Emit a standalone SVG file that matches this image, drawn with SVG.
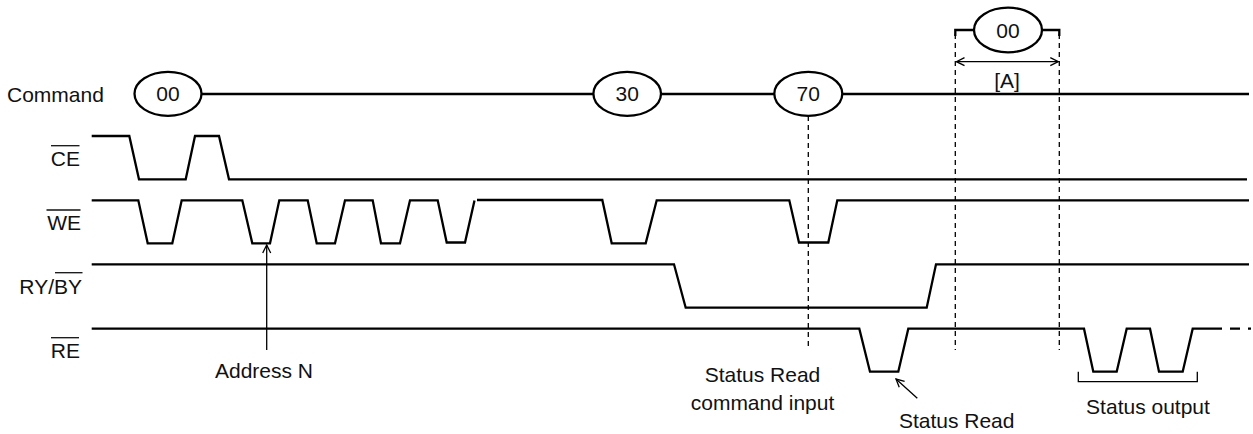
<svg xmlns="http://www.w3.org/2000/svg" width="1253" height="434" viewBox="0 0 1253 434">
<style>
.t{font-family:"Liberation Sans",Arial,sans-serif;font-size:21px;fill:#111}
.m{text-anchor:middle}
.e{text-anchor:end}
.w{fill:none;stroke:#000;stroke-width:2.3;stroke-linejoin:miter}
.d{fill:none;stroke:#000;stroke-width:1.3;stroke-dasharray:5,4}
.a{fill:none;stroke:#000;stroke-width:1.3}
.ol{stroke:#111;stroke-width:1.3}
.el{fill:#fff;stroke:#000;stroke-width:2.3}
</style>
<defs>
<marker id="oa" viewBox="0 0 10 10" refX="9" refY="5" markerWidth="10" markerHeight="10" markerUnits="userSpaceOnUse" orient="auto-start-reverse">
<path d="M1,1 L9,5 L1,9" fill="none" stroke="#000" stroke-width="1.3"/>
</marker>
</defs>
<rect width="1253" height="434" fill="#fff"/>

<g id="labels">
<text class="t" x="7" y="101.5">Command</text>
<text class="t e" x="80" y="166">CE</text>
<line class="ol" x1="51" y1="145.7" x2="79.5" y2="145.7"/>
<text class="t e" x="81" y="230">WE</text>
<line class="ol" x1="46.5" y1="210" x2="80.5" y2="210"/>
<text class="t e" x="82" y="294">RY/BY</text>
<line class="ol" x1="55" y1="272.7" x2="82.5" y2="272.7"/>
<text class="t e" x="80" y="358">RE</text>
<line class="ol" x1="51" y1="337.7" x2="79" y2="337.7"/>
</g>

<g id="connectors">
<!-- Command bus -->
<line class="w" x1="201" y1="94" x2="594" y2="94"/>
<line class="w" x1="661" y1="94" x2="775" y2="94"/>
<line class="w" x1="842" y1="94" x2="1249" y2="94"/>
<!-- CE -->
<polyline class="w" points="91.7,136 129.3,136 139,179.3 185.7,179.3 195,136 219,136 229,179.3 1247,179.3"/>
<!-- WE -->
<polyline class="w" points="91.7,200.3 138.3,200.3 147.7,243.3 172.3,243.3 181.7,200.3 242.3,200.3 252.3,243.3 270,243.3 279.3,200.3 307.7,200.3 316.7,243.3 335,243.3 345,200.3 372.7,200.3 381,243.3 400,243.3 410,200.3 437.7,200.3 446.7,242.5 465,242.5 474.5,200.5"/>
<polyline class="w" points="477,200 602.3,200 611.7,243.3 645.7,243.3 656.7,200.3 789.3,200.3 799,242.5 828.3,242.5 837.3,200.3 1249,200.3"/>
<!-- RY/BY -->
<polyline class="w" points="91.7,264.3 674,264.3 685.7,307.7 926.7,307.7 936,264.3 1249,264.3"/>
<!-- RE -->
<polyline class="w" points="91.7,328.7 859.3,328.7 870,371.7 898.3,371.7 908.3,328.7 1084,328.7 1093.3,371.7 1116.7,371.7 1126.7,328.7 1150,328.7 1159,371.7 1182.7,371.7 1192.7,328.7 1212,328.7"/>
<line class="w" x1="1212" y1="328.7" x2="1251" y2="328.7" stroke-dasharray="10,8"/>
<!-- dashed verticals -->
<line class="d" x1="808.3" y1="116" x2="808.3" y2="350"/>
<line class="d" x1="955.3" y1="34" x2="955.3" y2="350"/>
<line class="d" x1="1059.3" y1="34" x2="1059.3" y2="350"/>
<!-- top 00 stubs -->
<polyline class="w" points="955.3,36 955.3,30 975,30"/>
<polyline class="w" points="1041,30 1059.3,30 1059.3,36"/>
<!-- [A] dimension -->
<line class="a" x1="956.5" y1="61.7" x2="1058.3" y2="61.7" marker-start="url(#oa)" marker-end="url(#oa)"/>
<!-- Address N arrow -->
<line class="a" x1="266.7" y1="350" x2="266.7" y2="245" marker-end="url(#oa)"/>
<!-- Status Read arrow -->
<line class="a" x1="917.3" y1="398.3" x2="896" y2="379" marker-end="url(#oa)"/>
<!-- Status output bracket -->
<polyline class="a" points="1078.3,371.7 1078.3,381.7 1197.3,381.7 1197.3,371.7"/>
</g>

<g id="node-cmd00">
<ellipse class="el" cx="168" cy="93.8" rx="33.5" ry="22"/>
<text class="t m" x="168" y="101.3">00</text>
</g>
<g id="node-cmd30">
<ellipse class="el" cx="627.2" cy="93.8" rx="33.8" ry="22"/>
<text class="t m" x="627.2" y="101.3">30</text>
</g>
<g id="node-cmd70">
<ellipse class="el" cx="808.3" cy="93.8" rx="34" ry="22"/>
<text class="t m" x="808.3" y="101.3">70</text>
</g>
<g id="node-cmd00b">
<ellipse class="el" cx="1008" cy="30" rx="34" ry="22.3"/>
<text class="t m" x="1008" y="37.5">00</text>
</g>
<g id="label-A">
<text class="t m" x="1007" y="88">[A]</text>
</g>
<g id="label-address">
<text class="t m" x="264" y="378">Address N</text>
</g>
<g id="label-srci">
<text class="t m" x="762.5" y="382">Status Read</text>
<text class="t m" x="762.5" y="410">command input</text>
</g>
<g id="label-sr">
<text class="t m" x="956.7" y="428">Status Read</text>
</g>
<g id="label-so">
<text class="t m" x="1148" y="413.5">Status output</text>
</g>
</svg>
